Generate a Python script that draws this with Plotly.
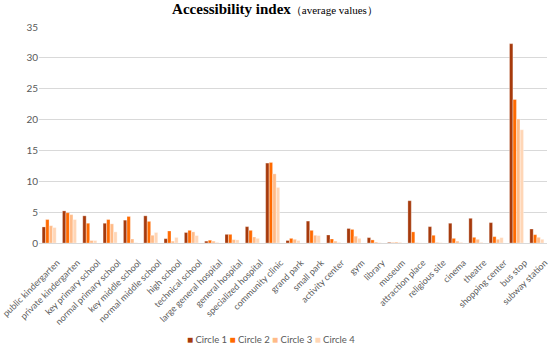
import plotly.graph_objects as go

categories = ["public kindergarten", "private kindergarten", "key primary school",
              "normal primary school", "key middle school", "normal middle school",
              "high school", "technical school", "large general hospital",
              "general hospital", "specialized hospital", "community clinic",
              "grand park", "small park", "activity center", "gym", "library",
              "museum", "attraction place", "religious site", "cinema", "theatre",
              "shopping center", "bus stop", "subway station"]

circle1 = [2.6, 5.2, 4.4, 3.2, 3.7, 4.4, 0.7, 1.7, 0.3, 1.4, 2.65, 12.95, 0.4, 3.55,
           1.3, 2.35, 0.87, 0.1, 6.85, 2.65, 3.2, 4.0, 3.3, 32.3, 2.27]
circle2 = [3.8, 4.9, 3.2, 3.8, 4.3, 3.5, 1.95, 2.05, 0.45, 1.4, 2.05, 13.05, 0.75, 2.05,
           0.65, 2.2, 0.5, 0.05, 1.8, 1.25, 0.75, 0.92, 1.03, 23.25, 1.35]
circle3 = [2.8, 4.6, 0.4, 3.1, 0.65, 1.25, 0.3, 1.8, 0.3, 0.55, 0.97, 11.2, 0.6, 1.25,
           0.3, 1.1, 0.15, 0.15, 0.05, 0.1, 0.3, 0.6, 0.6, 20.1, 0.92]
circle4 = [2.5, 3.8, 0.4, 1.8, 0.05, 1.7, 0.9, 1.2, 0.1, 0.5, 0.75, 9.0, 0.4, 1.2,
           0.1, 0.75, 0.05, 0.1, 0.02, 0.05, 0.1, 0.1, 0.87, 18.35, 0.6]

series_names = ["Circle 1", "Circle 2", "Circle 3", "Circle 4"]
series_values = [circle1, circle2, circle3, circle4]
colors = ["#A63A0C", "#FF6A00", "#FFBB88", "#FFD6B6"]

fig = go.Figure()
for name, vals, col in zip(series_names, series_values, colors):
    fig.add_trace(go.Bar(x=categories, y=vals, name=name, marker_color=col,
                         marker_line_color="rgba(255,255,255,0.6)", marker_line_width=0.5,
                         showlegend=False, hoverinfo="skip"))

txt = "#595959"
legend_text = "&nbsp;".join(
    f"<span style='color:{c};font-size:10px'>■</span> {n}" for n, c in zip(series_names, colors))

fig.update_layout(
    width=550, height=345,
    margin=dict(l=39, r=3, t=27, b=102, autoexpand=False),
    paper_bgcolor="white", plot_bgcolor="white",
    barmode="group", bargap=0.3, bargroupgap=0.05,
    title=dict(text="<b>Accessibility index</b><span style='font-size:11px'>（average values）</span>",
               x=0.5, xanchor="center", y=0.99, yanchor="top", automargin=False,
               font=dict(family="Liberation Serif", size=15, color="black")),
    font=dict(family="Lato", size=10, color=txt),
    annotations=[dict(text=legend_text, xref="paper", yref="paper", x=0.457, y=-0.444,
                      xanchor="center", yanchor="middle", showarrow=False,
                      font=dict(family="Lato", size=9.5, color=txt))],
    xaxis=dict(tickangle=-45, showline=True, linecolor="#D9D9D9", linewidth=1,
               automargin=False, ticks="", tickfont=dict(size=9, color=txt), showgrid=False,
               ticklabelstandoff=10, ticklabelshift=8),
    yaxis=dict(range=[0, 35], dtick=5, showgrid=True, gridcolor="#D9D9D9", gridwidth=1,
               automargin=False, zeroline=False, ticks="", tickfont=dict(size=10, color=txt)),
)
fig.write_html("out.html", config={"displayModeBar": False, "staticPlot": True},
               post_script="document.body.style.margin='0';document.body.style.overflow='hidden';")
